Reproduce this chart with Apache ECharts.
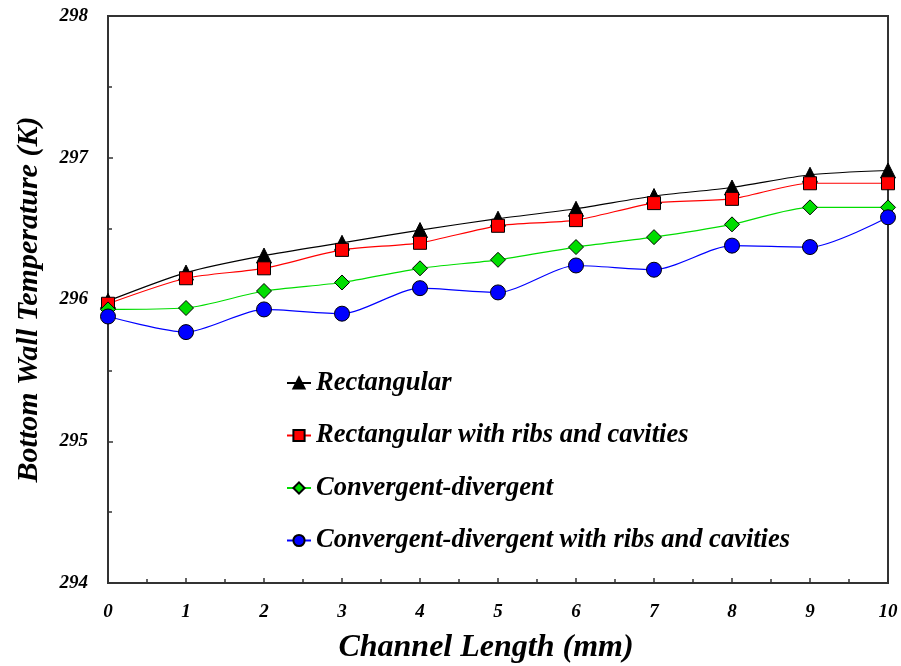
<!DOCTYPE html>
<html>
<head>
<meta charset="utf-8">
<script src="https://cdn.jsdelivr.net/npm/echarts@6/dist/echarts.min.js"></script>
<style>
  html, body { margin: 0; padding: 0; background: #fff; }
  #chart { width: 901px; height: 666px; }
</style>
</head>
<body>
<div id="chart"></div>
<script>
// Channel positions (mm)
const positions = [0, 1, 2, 3, 4, 5, 6, 7, 8, 9, 10];

// Bottom wall temperature (K) for each channel geometry
const rectangular      = [295.99, 296.19, 296.31, 296.40, 296.49, 296.57, 296.64, 296.73, 296.79, 296.88, 296.91];
const rectRibsCavities = [295.97, 296.15, 296.22, 296.35, 296.40, 296.52, 296.56, 296.68, 296.71, 296.82, 296.82];
const convDiv          = [295.93, 295.94, 296.06, 296.12, 296.22, 296.28, 296.37, 296.44, 296.53, 296.65, 296.65];
const convDivRibs      = [295.88, 295.77, 295.93, 295.90, 296.08, 296.05, 296.24, 296.21, 296.38, 296.37, 296.58];

const seriesNames = [
  'Rectangular',
  'Rectangular with ribs and cavities',
  'Convergent-divergent',
  'Convergent-divergent with ribs and cavities'
];

const FONT = '"Liberation Serif", "DejaVu Serif", serif';
const AXIS_COLOR = '#333';

function pairs(values) {
  return positions.map((x, i) => [x, values[i]]);
}

function makeSeries(name, values, color, symbol, size) {
  return {
    name: name,
    type: 'line',
    data: pairs(values),
    smooth: 0.25,
    symbol: symbol,
    symbolSize: size,
    showAllSymbol: true,
    lineStyle: { color: color, width: 1.2 },
    itemStyle: { color: color, borderColor: '#000', borderWidth: 1 },
    emphasis: { disabled: true }
  };
}

const chart = echarts.init(document.getElementById('chart'), null, { renderer: 'canvas' });

chart.setOption({
  animation: false,
  backgroundColor: '#fff',
  grid: {
    left: 108, right: 13, top: 16, bottom: 83,
    containLabel: false,
    outerBoundsMode: 'none',
    show: true, borderColor: AXIS_COLOR, borderWidth: 2, backgroundColor: 'transparent'
  },
  legend: {
    orient: 'vertical',
    left: 281,
    top: 364,
    itemWidth: 24,
    itemHeight: 14,
    itemGap: 24.5,
    data: seriesNames,
    textStyle: {
      fontFamily: FONT, fontSize: 26.5, fontWeight: 'bold', fontStyle: 'italic',
      color: '#000', lineHeight: 28
    }
  },
  xAxis: {
    type: 'value',
    min: 0, max: 10, interval: 1,
    name: 'Channel Length (mm)',
    nameLocation: 'middle',
    nameGap: 49,
    nameTextStyle: {
      fontFamily: FONT, fontSize: 32, fontWeight: 'bold', fontStyle: 'italic', color: '#000',
      padding: [0, 24, 0, 0]
    },
    axisLine: { show: true, lineStyle: { color: AXIS_COLOR, width: 2 } },
    axisTick: { show: true, inside: true, length: 5, lineStyle: { color: AXIS_COLOR, width: 1.5 } },
    minorTick: { show: true, splitNumber: 2, length: 4, lineStyle: { color: AXIS_COLOR, width: 1.5 } },
    axisLabel: {
      margin: 20,
      fontFamily: FONT, fontSize: 19, fontWeight: 'bold', fontStyle: 'italic', color: '#000'
    },
    splitLine: { show: false }
  },
  yAxis: {
    type: 'value',
    min: 294, max: 298, interval: 1,
    name: 'Bottom Wall Temperature (K)',
    nameLocation: 'middle',
    nameGap: 64,
    nameTextStyle: {
      fontFamily: FONT, fontSize: 30, fontWeight: 'bold', fontStyle: 'italic', color: '#000'
    },
    axisLine: { show: true, lineStyle: { color: AXIS_COLOR, width: 2 } },
    axisTick: { show: true, inside: true, length: 5, lineStyle: { color: AXIS_COLOR, width: 1.5 } },
    minorTick: { show: true, splitNumber: 2, length: 4, lineStyle: { color: AXIS_COLOR, width: 1.5 } },
    axisLabel: {
      margin: 20,
      fontFamily: FONT, fontSize: 19, fontWeight: 'bold', fontStyle: 'italic', color: '#000'
    },
    splitLine: { show: false }
  },
  series: [
    makeSeries(seriesNames[0], rectangular, '#000000', 'triangle', 15),
    makeSeries(seriesNames[1], rectRibsCavities, '#ff0000', 'rect', 13),
    makeSeries(seriesNames[2], convDiv, '#00dd00', 'diamond', 15),
    makeSeries(seriesNames[3], convDivRibs, '#0000ff', 'circle', 15)
  ]
});
</script>
</body>
</html>
